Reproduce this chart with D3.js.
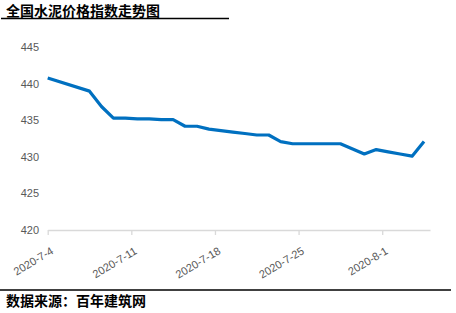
<!DOCTYPE html>
<html>
<head>
<meta charset="utf-8">
<script src="https://cdn.jsdelivr.net/npm/d3@7"></script>
<style>
  html, body { margin: 0; padding: 0; background: #fff; }
  svg { display: block; }
</style>
</head>
<body>
<svg id="chart" width="456" height="313"></svg>
<script>
const title = "全国水泥价格指数走势图";
const source = "数据来源：百年建筑网";

const dates = [
  "2020-07-04T00:00", "2020-07-07T12:00", "2020-07-08T12:00", "2020-07-09T12:00",
  "2020-07-10T12:00", "2020-07-11T12:00", "2020-07-12T12:00", "2020-07-13T12:00",
  "2020-07-14T12:00", "2020-07-15T12:00", "2020-07-16T12:00", "2020-07-17T12:00",
  "2020-07-18T12:00", "2020-07-19T12:00", "2020-07-20T12:00", "2020-07-21T12:00",
  "2020-07-22T12:00", "2020-07-23T12:00", "2020-07-24T12:00", "2020-07-25T12:00",
  "2020-07-26T12:00", "2020-07-27T12:00", "2020-07-28T12:00", "2020-07-30T12:00",
  "2020-07-31T12:00", "2020-08-01T12:00", "2020-08-02T12:00", "2020-08-03T12:00",
  "2020-08-04T12:00"
];
const values = [
  440.8, 439.0, 436.9, 435.3,
  435.3, 435.2, 435.2, 435.1,
  435.1, 434.2, 434.2, 433.8,
  433.6, 433.4, 433.2, 433.0,
  433.0, 432.1, 431.8, 431.8,
  431.8, 431.8, 431.8, 430.4,
  431.0, 430.7, 430.4, 430.1,
  432.1
];
const yTicks = [420, 425, 430, 435, 440, 445];
const xTickDates = ["2020-07-04", "2020-07-11", "2020-07-18", "2020-07-25", "2020-08-01"];
const xTickLabels = ["2020-7-4", "2020-7-11", "2020-7-18", "2020-7-25", "2020-8-1"];

const parse = d3.isoParse;
const svg = d3.select("#chart");

const x = d3.scaleTime()
  .domain([parse("2020-07-04T00:00"), parse("2020-08-05T00:00")])
  .range([47.7, 430]);
const y = d3.scaleLinear().domain([420, 445]).range([230, 47.3]);

// title
svg.append("text")
  .attr("x", 6).attr("y", 15.5)
  .attr("font-family", "Noto Sans CJK SC")
  .attr("font-weight", "bold")
  .attr("font-size", 14)
  .attr("fill", "#000")
  .text(title);
svg.append("line")
  .attr("x1", 1).attr("x2", 229).attr("y1", 18.5).attr("y2", 18.5)
  .attr("stroke", "#000").attr("stroke-width", 1.3);

// y axis labels
const yAxis = d3.axisLeft(y).tickValues(yTicks).tickSize(0).tickPadding(0);
const gy = svg.append("g").attr("transform", "translate(39,0)").call(yAxis);
gy.select(".domain").remove();
gy.selectAll("text")
  .attr("font-family", "Liberation Sans, Arial, sans-serif")
  .attr("font-size", 11)
  .attr("fill", "#595959");

// x axis
const xAxis = d3.axisBottom(x)
  .tickValues(xTickDates.map(d => parse(d)))
  .tickFormat((d, i) => xTickLabels[i])
  .tickSizeInner(5).tickSizeOuter(0);
const gx = svg.append("g").attr("transform", "translate(0,230)").call(xAxis);
gx.select(".domain").attr("stroke", "#d9d9d9").attr("stroke-width", 1.3);
gx.selectAll(".tick line").attr("stroke", "#d9d9d9").attr("stroke-width", 1.3);
gx.selectAll("text")
  .attr("font-family", "Liberation Sans, Arial, sans-serif")
  .attr("font-size", 11)
  .attr("fill", "#595959")
  .attr("text-anchor", "end")
  .attr("y", 0).attr("dy", 0)
  .attr("transform", "translate(6,23) rotate(-31)");

// line
const line = d3.line()
  .x((d, i) => x(parse(dates[i])))
  .y(d => y(d));
svg.append("path")
  .datum(values)
  .attr("d", line)
  .attr("fill", "none")
  .attr("stroke", "#0070c0")
  .attr("stroke-width", 3.2)
  .attr("stroke-linejoin", "round");

// bottom rule and source
svg.append("line")
  .attr("x1", 0).attr("x2", 451).attr("y1", 290).attr("y2", 290)
  .attr("stroke", "#000").attr("stroke-width", 1.3);
svg.append("text")
  .attr("x", 6).attr("y", 306)
  .attr("font-family", "Noto Sans CJK SC")
  .attr("font-weight", "bold")
  .attr("font-size", 14)
  .attr("fill", "#000")
  .text(source);
</script>
</body>
</html>
